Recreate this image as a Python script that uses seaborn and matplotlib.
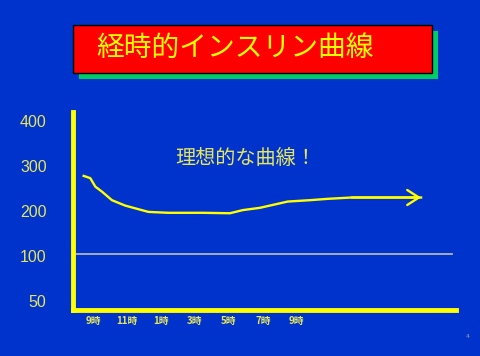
import matplotlib
matplotlib.use("Agg")
import matplotlib.pyplot as plt
import seaborn as sns
import pandas as pd
from matplotlib.patches import Rectangle

# ---- data ----
title = "経時的インスリン曲線"
note = "理想的な曲線！"
hours = [8.43, 8.82, 9.12, 9.51, 10.10, 10.88, 11.66, 12.25, 13.43, 15.47, 17.06,
         17.82, 18.82, 19.41, 20.47, 21.76, 22.82, 24.24, 28.34]
insulin = [278, 273, 254, 243, 224, 212, 204, 198, 196, 196, 195,
           202, 207, 212, 221, 224, 227, 230, 230]
baseline = 105
xtick_pos = [9, 11, 13, 15, 17, 19, 21]
xtick_labels = ["9時", "11時", "1時", "3時", "5時", "7時", "9時"]
ytick_pos = [0, 100, 200, 300, 400]
ytick_labels = ["50", "100", "200", "300", "400"]

BLUE = "#0033CC"
YEL = "#FFFF00"
TICKYEL = "#E6E65A"

W, H = 481, 356
fig = plt.figure(figsize=(W / 100, H / 100), dpi=100, facecolor=BLUE)

def fx(px):
    return px / W

def fy(py):
    return 1 - py / H

ax = fig.add_axes([fx(73), fy(310), fx(456) - fx(73), fy(112) - fy(310)])
ax.set_facecolor(BLUE)

df = pd.DataFrame({"hour": hours, "insulin": insulin})
sns.lineplot(data=df, x="hour", y="insulin", ax=ax, color=YEL, lw=1.7)
ax.annotate("", xy=(hours[-1], insulin[-1]), xytext=(hours[-2], insulin[-2]),
            arrowprops=dict(arrowstyle="->,head_length=0.7,head_width=0.45", color=YEL,
                            lw=1.7, mutation_scale=12, shrinkA=0, shrinkB=0))
ax.axhline(baseline, color="#B4B4B4", lw=1.3, xmax=0.99)

ax.set_xlim(7.8, 30.4)
ax.set_ylim(-20, 420)
ax.set_xlabel("")
ax.set_ylabel("")

for s in ["top", "right"]:
    ax.spines[s].set_visible(False)
for s in ["left", "bottom"]:
    ax.spines[s].set_color(YEL)
    ax.spines[s].set_linewidth(3.5)

ax.set_yticks(ytick_pos)
ax.set_yticklabels(ytick_labels, family=["Liberation Sans", "DejaVu Sans"], fontsize=11.5, color=TICKYEL)
ax.tick_params(axis="y", length=0, pad=19)
ax.set_xticks(xtick_pos)
ax.set_xticklabels(xtick_labels, family=["Noto Sans CJK JP", "DejaVu Sans"], fontsize=7,
                   color=TICKYEL, fontweight="bold")
ax.tick_params(axis="x", length=0, pad=4)

# title box with shadow
fig.patches.append(Rectangle((fx(79), fy(79)), fx(438) - fx(79), fy(31) - fy(79),
                             transform=fig.transFigure, facecolor="#00CC66", edgecolor="none", zorder=0))
fig.patches.append(Rectangle((fx(73), fy(73)), fx(432) - fx(73), fy(25) - fy(73),
                             transform=fig.transFigure, facecolor="#FF0000", edgecolor="black", lw=1.0, zorder=1))
fig.text(fx(235), fy(48), title, ha="center", va="center", color=YEL, fontsize=20,
         family=["Noto Sans CJK JP", "DejaVu Sans"], zorder=3)

fig.text(fx(246), fy(158), note, ha="center", va="center", color=TICKYEL, fontsize=14.5,
         family=["Noto Sans CJK JP", "DejaVu Sans"])

fig.text(fx(468), fy(337), "4", ha="center", va="center", color="#A0A0A0", fontsize=4.5)

fig.savefig("out.png", dpi=100, facecolor=BLUE)
